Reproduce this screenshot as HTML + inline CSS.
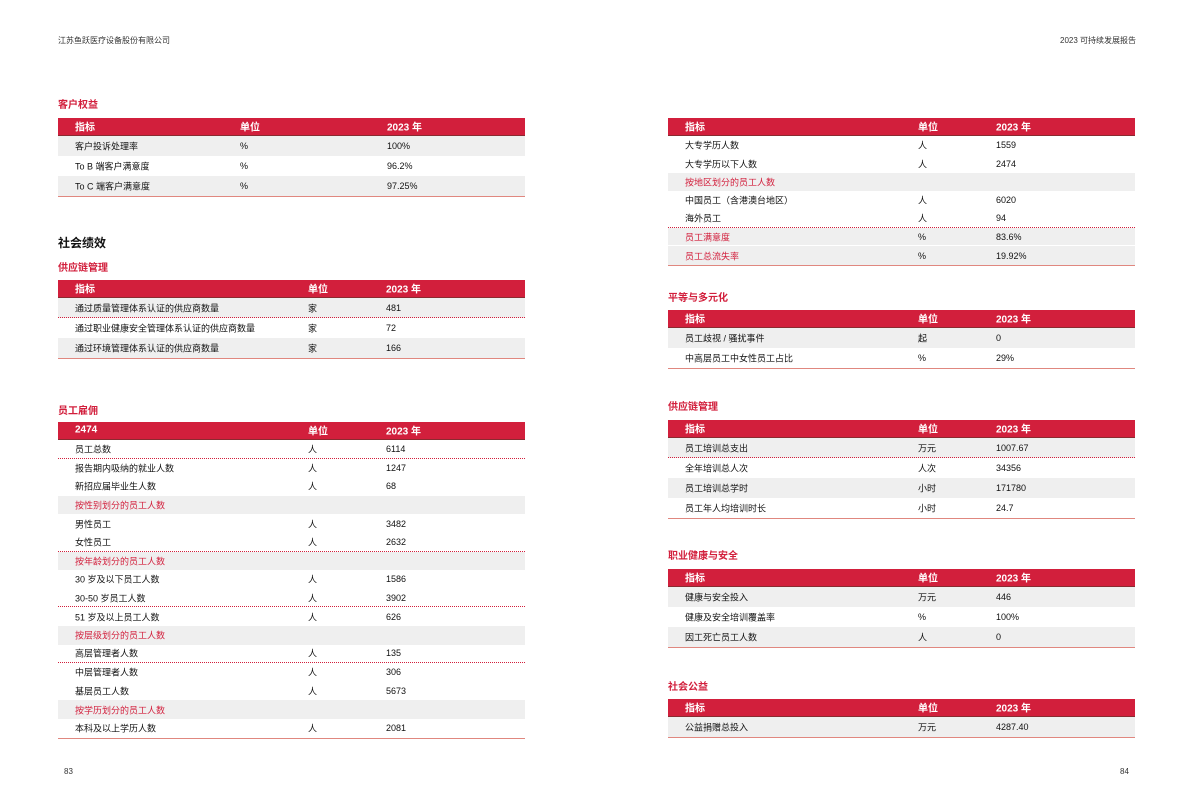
<!DOCTYPE html>
<html><head><meta charset="utf-8">
<style>
*{margin:0;padding:0;box-sizing:border-box}
body{width:1192px;height:808px;background:#fff;position:relative;overflow:hidden;font-family:"Liberation Sans","Noto Sans CJK SC",sans-serif;color:#111;font-size:9px}
.a{position:absolute}
.t{position:absolute;color:#d21f3c;font-weight:bold;font-size:10px}
.tb{position:absolute;width:467px;border-bottom:1px solid #e0877f}
.h{height:18px;background:#d21f3c;color:#fff;font-weight:bold;font-size:10px;position:relative;border-bottom:1px solid #8a2a30}
.r{position:relative}
.g{background:#efefef}
.c{color:#d21f3c}
.d{border-bottom:1px dotted #d21f3c}
.h span,.r span{position:absolute;top:50%;transform:translateY(-50%);white-space:nowrap}
.h span{top:46%}
</style></head><body>
<div class="a" style="left:58px;top:35px;font-size:8px;color:#333">江苏鱼跃医疗设备股份有限公司</div>
<div class="a" style="left:1060px;top:35px;font-size:8px;color:#333">2023 可持续发展报告</div>
<div class="a" style="left:64px;top:767px;font-size:8px;color:#333">83</div>
<div class="a" style="left:1120px;top:767px;font-size:8px;color:#333">84</div>

<div class="t" style="left:58px;top:96px">客户权益</div>
<div class="tb" style="left:58px;top:118px">
<div class="h"><span style="left:17px">指标</span><span style="left:182px">单位</span><span style="left:329px">2023 年</span></div>
<div class="r g" style="height:20px"><span style="left:17px">客户投诉处理率</span><span style="left:182px">%</span><span style="left:329px">100%</span></div>
<div class="r" style="height:20px"><span style="left:17px">To B 端客户满意度</span><span style="left:182px">%</span><span style="left:329px">96.2%</span></div>
<div class="r g" style="height:20px"><span style="left:17px">To C 端客户满意度</span><span style="left:182px">%</span><span style="left:329px">97.25%</span></div>
</div>

<div class="a" style="left:58px;top:234px;font-size:12px;font-weight:bold;color:#111">社会绩效</div>
<div class="t" style="left:58px;top:259px">供应链管理</div>
<div class="tb" style="left:58px;top:280px">
<div class="h"><span style="left:17px">指标</span><span style="left:250px">单位</span><span style="left:328px">2023 年</span></div>
<div class="r g d" style="height:20px"><span style="left:17px">通过质量管理体系认证的供应商数量</span><span style="left:250px">家</span><span style="left:328px">481</span></div>
<div class="r" style="height:20px"><span style="left:17px">通过职业健康安全管理体系认证的供应商数量</span><span style="left:250px">家</span><span style="left:328px">72</span></div>
<div class="r g" style="height:20px"><span style="left:17px">通过环境管理体系认证的供应商数量</span><span style="left:250px">家</span><span style="left:328px">166</span></div>
</div>

<div class="t" style="left:58px;top:402px">员工雇佣</div>
<div class="tb" style="left:58px;top:422px">
<div class="h"><span style="left:17px">2474</span><span style="left:250px">单位</span><span style="left:328px">2023 年</span></div>
<div class="r d" style="height:18.6px"><span style="left:17px">员工总数</span><span style="left:250px">人</span><span style="left:328px">6114</span></div>
<div class="r" style="height:18.6px"><span style="left:17px">报告期内吸纳的就业人数</span><span style="left:250px">人</span><span style="left:328px">1247</span></div>
<div class="r" style="height:18.6px"><span style="left:17px">新招应届毕业生人数</span><span style="left:250px">人</span><span style="left:328px">68</span></div>
<div class="r g c" style="height:18.6px"><span style="left:17px">按性别划分的员工人数</span></div>
<div class="r" style="height:18.6px"><span style="left:17px">男性员工</span><span style="left:250px">人</span><span style="left:328px">3482</span></div>
<div class="r d" style="height:18.6px"><span style="left:17px">女性员工</span><span style="left:250px">人</span><span style="left:328px">2632</span></div>
<div class="r g c" style="height:18.6px"><span style="left:17px">按年龄划分的员工人数</span></div>
<div class="r" style="height:18.6px"><span style="left:17px">30 岁及以下员工人数</span><span style="left:250px">人</span><span style="left:328px">1586</span></div>
<div class="r d" style="height:18.6px"><span style="left:17px">30-50 岁员工人数</span><span style="left:250px">人</span><span style="left:328px">3902</span></div>
<div class="r" style="height:18.6px"><span style="left:17px">51 岁及以上员工人数</span><span style="left:250px">人</span><span style="left:328px">626</span></div>
<div class="r g c" style="height:18.6px"><span style="left:17px">按层级划分的员工人数</span></div>
<div class="r d" style="height:18.6px"><span style="left:17px">高层管理者人数</span><span style="left:250px">人</span><span style="left:328px">135</span></div>
<div class="r" style="height:18.6px"><span style="left:17px">中层管理者人数</span><span style="left:250px">人</span><span style="left:328px">306</span></div>
<div class="r" style="height:18.6px"><span style="left:17px">基层员工人数</span><span style="left:250px">人</span><span style="left:328px">5673</span></div>
<div class="r g c" style="height:18.6px"><span style="left:17px">按学历划分的员工人数</span></div>
<div class="r" style="height:18.6px"><span style="left:17px">本科及以上学历人数</span><span style="left:250px">人</span><span style="left:328px">2081</span></div>
</div>

<div class="tb" style="left:668px;top:118px">
<div class="h"><span style="left:17px">指标</span><span style="left:250px">单位</span><span style="left:328px">2023 年</span></div>
<div class="r" style="height:18.4px"><span style="left:17px">大专学历人数</span><span style="left:250px">人</span><span style="left:328px">1559</span></div>
<div class="r" style="height:18.4px"><span style="left:17px">大专学历以下人数</span><span style="left:250px">人</span><span style="left:328px">2474</span></div>
<div class="r g c" style="height:18.4px"><span style="left:17px">按地区划分的员工人数</span></div>
<div class="r" style="height:18.4px"><span style="left:17px">中国员工（含港澳台地区）</span><span style="left:250px">人</span><span style="left:328px">6020</span></div>
<div class="r d" style="height:18.4px"><span style="left:17px">海外员工</span><span style="left:250px">人</span><span style="left:328px">94</span></div>
<div class="r g" style="height:18.4px;border-bottom:1px solid #fff"><span class="c" style="left:17px">员工满意度</span><span style="left:250px">%</span><span style="left:328px">83.6%</span></div>
<div class="r g" style="height:18.4px"><span class="c" style="left:17px">员工总流失率</span><span style="left:250px">%</span><span style="left:328px">19.92%</span></div>
</div>

<div class="t" style="left:668px;top:289px">平等与多元化</div>
<div class="tb" style="left:668px;top:310px">
<div class="h"><span style="left:17px">指标</span><span style="left:250px">单位</span><span style="left:328px">2023 年</span></div>
<div class="r g" style="height:20px"><span style="left:17px">员工歧视 / 骚扰事件</span><span style="left:250px">起</span><span style="left:328px">0</span></div>
<div class="r" style="height:20px"><span style="left:17px">中高层员工中女性员工占比</span><span style="left:250px">%</span><span style="left:328px">29%</span></div>
</div>

<div class="t" style="left:668px;top:398px">供应链管理</div>
<div class="tb" style="left:668px;top:420px">
<div class="h"><span style="left:17px">指标</span><span style="left:250px">单位</span><span style="left:328px">2023 年</span></div>
<div class="r g d" style="height:20px"><span style="left:17px">员工培训总支出</span><span style="left:250px">万元</span><span style="left:328px">1007.67</span></div>
<div class="r" style="height:20px"><span style="left:17px">全年培训总人次</span><span style="left:250px">人次</span><span style="left:328px">34356</span></div>
<div class="r g" style="height:20px"><span style="left:17px">员工培训总学时</span><span style="left:250px">小时</span><span style="left:328px">171780</span></div>
<div class="r" style="height:20px"><span style="left:17px">员工年人均培训时长</span><span style="left:250px">小时</span><span style="left:328px">24.7</span></div>
</div>

<div class="t" style="left:668px;top:547px">职业健康与安全</div>
<div class="tb" style="left:668px;top:569px">
<div class="h"><span style="left:17px">指标</span><span style="left:250px">单位</span><span style="left:328px">2023 年</span></div>
<div class="r g" style="height:20px"><span style="left:17px">健康与安全投入</span><span style="left:250px">万元</span><span style="left:328px">446</span></div>
<div class="r" style="height:20px"><span style="left:17px">健康及安全培训覆盖率</span><span style="left:250px">%</span><span style="left:328px">100%</span></div>
<div class="r g" style="height:20px"><span style="left:17px">因工死亡员工人数</span><span style="left:250px">人</span><span style="left:328px">0</span></div>
</div>

<div class="t" style="left:668px;top:678px">社会公益</div>
<div class="tb" style="left:668px;top:699px">
<div class="h"><span style="left:17px">指标</span><span style="left:250px">单位</span><span style="left:328px">2023 年</span></div>
<div class="r g" style="height:20px"><span style="left:17px">公益捐赠总投入</span><span style="left:250px">万元</span><span style="left:328px">4287.40</span></div>
</div>
</body></html>
